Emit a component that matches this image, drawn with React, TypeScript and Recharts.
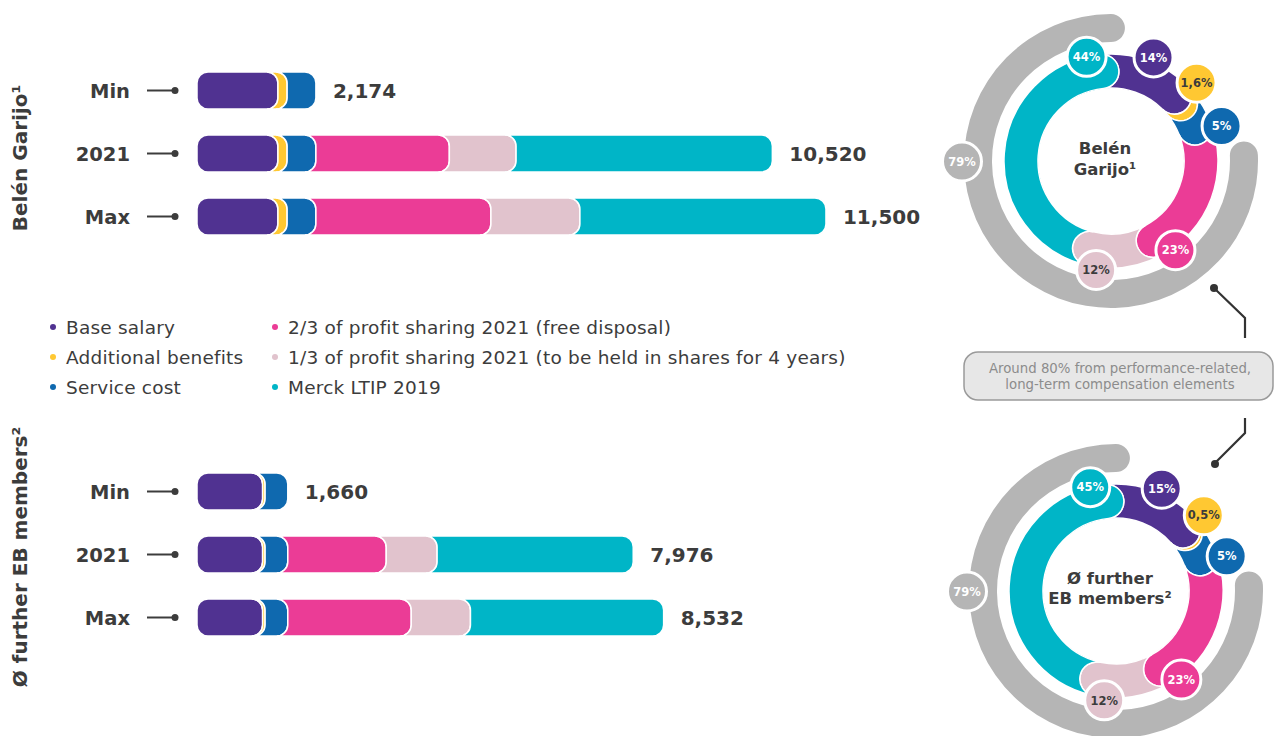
import { Bar, BarChart, Cell, Pie, PieChart, XAxis, YAxis } from 'recharts';

const FONT = '"DejaVu Sans", Verdana, sans-serif';
const INK = '#3c3c3c';

const ROWS = ['Min', '2021', 'Max'];
const KEYS = ['base', 'benefits', 'service', 'profitFree', 'profitShares', 'ltip'];
const LEGEND = [
  'Base salary',
  'Additional benefits',
  'Service cost',
  '2/3 of profit sharing 2021 (free disposal)',
  '1/3 of profit sharing 2021 (to be held in shares for 4 years)',
  'Merck LTIP 2019',
];
const COLORS = ['#503291', '#ffc832', '#0f69af', '#eb3c96', '#e1c3cd', '#00b5c7'];
const BUBBLE_TEXT = ['#fff', INK, '#fff', '#fff', INK, '#fff'];

// € thousand, per row Min / 2021 / Max
const garijoBase = [1480, 1480, 1480];
const garijoBenefits = [168, 168, 168];
const garijoService = [526, 526, 526];
const garijoProfitFree = [0, 2440, 3200];
const garijoProfitShares = [0, 1220, 1627];
const garijoLtip = [0, 4686, 4499];
const garijoTotals = [2174, 10520, 11500];

const ebBase = [1200, 1200, 1200];
const ebBenefits = [45, 45, 45];
const ebService = [415, 415, 415];
const ebProfitFree = [0, 1800, 2257];
const ebProfitShares = [0, 930, 1083];
const ebLtip = [0, 3586, 3532];
const ebTotals = [1660, 7976, 8532];

const garijoShareLabels = ['14%', '1,6%', '5%', '23%', '12%', '44%'];
const ebShareLabels = ['15%', '0,5%', '5%', '23%', '12%', '45%'];
const perfShare = [79, 21];
const perfLabel = '79%';

// bubble placement tweaks (deg from mid angle, px beyond ring)
const BUBBLE_SHIFT = [8, 11, -2, -23, -4, -62];
const BUBBLE_OUT = [5, 9, 9, 3, 3, 0];

const buildRows = (cols: number[][], totals: number[]) =>
  ROWS.map((name, i) => {
    const row: any = { name, total: totals[i] };
    KEYS.forEach((k, j) => (row[k] = cols[j][i]));
    return row;
  });

const garijoRows = buildRows(
  [garijoBase, garijoBenefits, garijoService, garijoProfitFree, garijoProfitShares, garijoLtip],
  garijoTotals,
);
const ebRows = buildRows([ebBase, ebBenefits, ebService, ebProfitFree, ebProfitShares, ebLtip], ebTotals);

const ringData = (rows: any[]) => KEYS.map((k) => ({ name: k, value: rows[1][k] }));

const R = 11;
function segmentPath(x: number, y: number, w: number, h: number, first: boolean) {
  const r = Math.min(R, h / 2);
  const e = x + w;
  const right = `L${e - r},${y} A${r},${r} 0 0 1 ${e},${y + r} L${e},${y + h - r} A${r},${r} 0 0 1 ${e - r},${y + h}`;
  if (first) {
    return `M${x + r},${y} ${right} L${x + r},${y + h} A${r},${r} 0 0 1 ${x},${y + h - r} L${x},${y + r} A${r},${r} 0 0 1 ${x + r},${y} Z`;
  }
  return `M${x - r},${y} ${right} L${x - r},${y + h} A${r},${r} 0 0 0 ${x},${y + h - r} L${x},${y + r} A${r},${r} 0 0 0 ${x - r},${y} Z`;
}

const makeShape = (idx: number, rows: any[]) => (props: any) => {
  const { x, y, width, height, index } = props;
  if (!(width > 0.5)) return <g />;
  const row = props.payload ?? rows[index];
  let last = 0;
  KEYS.forEach((k, j) => {
    if (row[k] > 0) last = j;
  });
  return (
    <g>
      <path d={segmentPath(x, y, width, height, idx === 0)} fill={COLORS[idx]} stroke="#fff" strokeWidth={1.5} />
      {idx === last && (
        <text x={x + width + 17} y={y + height / 2} dy="0.36em" fontFamily={FONT} fontSize={20} fontWeight="bold" fill={INK}>
          {row.total.toLocaleString('en-US')}
        </text>
      )}
    </g>
  );
};

const RowTick = (props: any) => {
  const { y, payload } = props;
  return (
    <g>
      <text x={130} y={y} dy="0.36em" textAnchor="end" fontFamily={FONT} fontSize={19.5} fontWeight="bold" fill={INK}>
        {payload.value}
      </text>
      <line x1={147} y1={y} x2={174} y2={y} stroke={INK} strokeWidth={2} />
      <circle cx={175} cy={y} r={3.5} fill={INK} />
    </g>
  );
};

function StackChart({ rows, top }: { rows: any[]; top: number }) {
  return (
    <div style={{ position: 'absolute', left: 0, top }}>
      <BarChart width={940} height={189} data={rows} layout="vertical" margin={{ top: 0, right: 32, bottom: 0, left: 0 }} barSize={37}>
        <XAxis type="number" domain={[0, 13000]} hide />
        <YAxis type="category" dataKey="name" width={197} axisLine={false} tickLine={false} tick={<RowTick />} />
        {KEYS.map((k, i) => (
          <Bar key={k} dataKey={k} stackId="a" fill={COLORS[i]} isAnimationActive={false} shape={makeShape(i, rows)} />
        ))}
      </BarChart>
    </div>
  );
}

const RAD = Math.PI / 180;
const pt = (cx: number, cy: number, r: number, a: number) => [cx + r * Math.cos(a * RAD), cy - r * Math.sin(a * RAD)];

function ringPath(cx: number, cy: number, ri: number, ro: number, s: number, e: number) {
  const h = (ro - ri) / 2;
  const rm = (ro + ri) / 2;
  const phi = h / rm / RAD;
  const A = s + phi;
  const B = e + phi;
  const large = A - B > 180 ? 1 : 0;
  const [x1, y1] = pt(cx, cy, ro, A);
  const [x2, y2] = pt(cx, cy, ro, B);
  const [x3, y3] = pt(cx, cy, ri, B);
  const [x4, y4] = pt(cx, cy, ri, A);
  return `M${x1},${y1} A${ro},${ro} 0 ${large} 1 ${x2},${y2} A${h},${h} 0 0 1 ${x3},${y3} A${ri},${ri} 0 ${large} 0 ${x4},${y4} A${h},${h} 0 0 0 ${x1},${y1} Z`;
}

const ringShape = (props: any) => {
  const { cx, cy, innerRadius, outerRadius, startAngle, endAngle, index } = props;
  return (
    <path d={ringPath(cx, cy, innerRadius, outerRadius, startAngle, endAngle)} fill={COLORS[index]} stroke="#fff" strokeWidth={1.5} />
  );
};

const Bubble = ({ x, y, fill, color, text }: any) => (
  <g>
    <circle cx={x} cy={y} r={19.5} fill={fill} stroke="#fff" strokeWidth={3} />
    <text x={x} y={y} dy="0.36em" textAnchor="middle" fontFamily={FONT} fontSize={11.5} fontWeight="bold" fill={color}>
      {text}
    </text>
  </g>
);

const shareBubble = (labels: string[]) => (props: any) => {
  const { cx, cy, midAngle, outerRadius, index } = props;
  const [x, y] = pt(cx, cy, outerRadius + BUBBLE_OUT[index], midAngle + BUBBLE_SHIFT[index]);
  return <Bubble x={x} y={y} fill={COLORS[index]} color={BUBBLE_TEXT[index]} text={labels[index]} />;
};

const perfBubble = (props: any) => {
  const { cx, cy, midAngle, outerRadius, index } = props;
  if (index !== 0) return null;
  const [x, y] = pt(cx, cy, outerRadius + 2, midAngle - 46);
  return <Bubble x={x} y={y} fill="#b5b5b5" color="#fff" text={perfLabel} />;
};

function Donut({ rows, labels, left, top }: { rows: any[]; labels: string[]; left: number; top: number }) {
  const data = ringData(rows);
  const gray = perfShare.map((value, i) => ({ name: i === 0 ? 'perf' : 'rest', value }));
  return (
    <div style={{ position: 'absolute', left, top }}>
      <PieChart width={339} height={312}>
        <Pie data={gray} dataKey="value" cx={170} cy={156} innerRadius={119} outerRadius={147} startAngle={84} endAngle={444}
          cornerRadius={14} stroke="none" isAnimationActive={false} label={perfBubble} labelLine={false}>
          <Cell fill="#b5b5b5" />
          <Cell fill="transparent" />
        </Pie>
        <Pie data={data} dataKey="value" cx={170} cy={156} innerRadius={73} outerRadius={107} startAngle={85} endAngle={-275}
          stroke="none" isAnimationActive={false} label={ringShape} labelLine={false}>
          {data.map((d, i) => <Cell key={d.name} fill={COLORS[i]} />)}
        </Pie>
        <Pie data={data} dataKey="value" cx={170} cy={156} innerRadius={73} outerRadius={107} startAngle={85} endAngle={-275}
          stroke="none" fill="transparent" isAnimationActive={false} label={shareBubble(labels)} labelLine={false}>
          {data.map((d) => <Cell key={d.name} fill="transparent" />)}
        </Pie>
      </PieChart>
    </div>
  );
}

export default function App() {
  const legendCols = [53, 275];
  return (
    <div style={{ position: 'absolute', left: 0, top: 0, width: 1275, height: 736, background: '#fff', fontFamily: FONT, overflow: 'hidden' }}>
      <StackChart rows={garijoRows} top={59} />
      <StackChart rows={ebRows} top={460} />
      <Donut rows={garijoRows} labels={garijoShareLabels} left={936} top={0} />
      <Donut rows={ebRows} labels={ebShareLabels} left={941} top={430} />
      <svg width={1275} height={736} style={{ position: 'absolute', left: 0, top: 0, pointerEvents: 'none' }}>
        <text transform="translate(27,158) rotate(-90)" textAnchor="middle" fontFamily={FONT} fontSize={20} fontWeight="bold" fill={INK}>
          Belén Garijo¹
        </text>
        <text transform="translate(27,557) rotate(-90)" textAnchor="middle" fontFamily={FONT} fontSize={20} fontWeight="bold" fill={INK}>
          Ø further EB members²
        </text>
        {LEGEND.map((t, i) => {
          const cx = legendCols[Math.floor(i / 3)];
          const cy = 327 + (i % 3) * 30;
          return (
            <g key={t}>
              <circle cx={cx} cy={cy} r={3} fill={COLORS[i]} />
              <text x={cx + 13} y={cy} dy="0.36em" fontFamily={FONT} fontSize={18.5} letterSpacing={0.2} fill={INK}>
                {t}
              </text>
            </g>
          );
        })}
        <text x={1105} y={148} dy="0.36em" textAnchor="middle" fontFamily={FONT} fontSize={16.5} fontWeight="bold" fill={INK}>Belén</text>
        <text x={1105} y={169} dy="0.36em" textAnchor="middle" fontFamily={FONT} fontSize={16.5} fontWeight="bold" fill={INK}>Garijo¹</text>
        <text x={1110} y={578} dy="0.36em" textAnchor="middle" fontFamily={FONT} fontSize={16.5} fontWeight="bold" fill={INK}>Ø further</text>
        <text x={1110} y={598} dy="0.36em" textAnchor="middle" fontFamily={FONT} fontSize={16.5} fontWeight="bold" fill={INK}>EB members²</text>
        <path d="M1214,288 L1245,318 L1245,338" fill="none" stroke="#333" strokeWidth={2.2} />
        <circle cx={1214} cy={288} r={4} fill="#333" />
        <path d="M1245,418 L1245,433 L1215,463" fill="none" stroke="#333" strokeWidth={2.2} />
        <circle cx={1215} cy={464} r={4} fill="#333" />
        <rect x={964} y={352} width={309} height={48} rx={14} fill="#e7e7e7" stroke="#9a9a9a" strokeWidth={1.5} />
        <text x={1120} y={368} dy="0.36em" textAnchor="middle" fontFamily={FONT} fontSize={13.3} fill="#8c8c8c">
          Around 80% from performance-related,
        </text>
        <text x={1120} y={384} dy="0.36em" textAnchor="middle" fontFamily={FONT} fontSize={13.3} fill="#8c8c8c">
          long-term compensation elements
        </text>
      </svg>
    </div>
  );
}
